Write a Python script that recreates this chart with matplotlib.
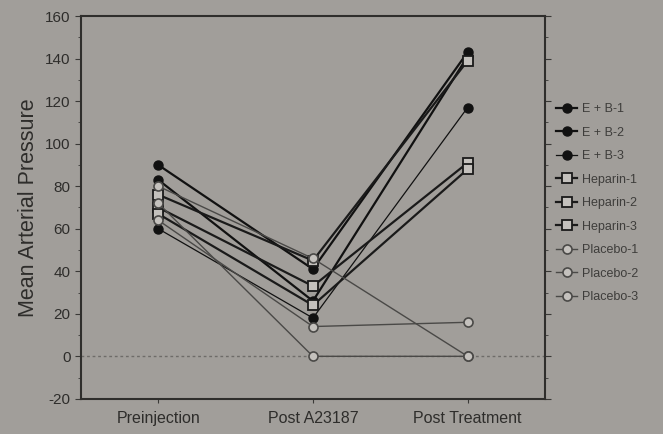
import matplotlib
matplotlib.use("Agg")
import matplotlib.pyplot as plt
from matplotlib.ticker import MultipleLocator

plt.rcParams["font.family"] = ["Liberation Sans", "DejaVu Sans"]
plt.rcParams["axes.unicode_minus"] = False

# Time points and mean arterial pressure per animal
timepoints = ["Preinjection", "Post A23187", "Post Treatment"]

eb_1 = [90, 41, 143]
eb_2 = [83, 26, 141]
eb_3 = [60, 18, 117]
heparin_1 = [76, 45, 139]
heparin_2 = [70, 33, 91]
heparin_3 = [67, 24, 88]
placebo_1 = [64, 14, 16]
placebo_2 = [72, 0, 0]
placebo_3 = [80, 46, 0]

series_names = ["E + B-1", "E + B-2", "E + B-3",
                "Heparin-1", "Heparin-2", "Heparin-3",
                "Placebo-1", "Placebo-2", "Placebo-3"]
series_values = [eb_1, eb_2, eb_3, heparin_1, heparin_2, heparin_3,
                 placebo_1, placebo_2, placebo_3]

BG = "#a19e9a"
TEXT = "#2e2d2b"

fig = plt.figure(figsize=(6.63, 4.34), dpi=100, facecolor=BG)
ax = fig.add_axes([0.122, 0.081, 0.700, 0.882], facecolor=BG)

x = list(range(1, len(timepoints) + 1))

ax.axhline(0, color="#6e6c69", lw=1.0, ls=(0, (2, 2)), zorder=1)

for name, vals in zip(series_names, series_values):
    if name.startswith("E"):
        style = dict(color="#111111", lw=1.6, marker="o", ms=6.5,
                     mfc="#111111", mec="#111111")
        if name.endswith("3"):
            style["lw"] = 0.9
    elif name.startswith("H"):
        style = dict(color="#1a1a1a", lw=1.6, marker="s", ms=6.5,
                     mfc="#c4c1bd", mec="#1a1a1a", mew=1.3)
    else:
        style = dict(color="#4a4947", lw=1.0, marker="o", ms=6.5,
                     mfc="#c4c1bd", mec="#4a4947", mew=1.2)
    ax.plot(x, vals, label=name, zorder=3, **style)

ax.set_xlim(0.5, 3.5)
ax.set_ylim(-20, 160)
ax.set_xticks(x)
ax.set_xticklabels(timepoints, fontsize=11.5, color=TEXT)
ax.yaxis.set_major_locator(MultipleLocator(20))
ax.yaxis.set_minor_locator(MultipleLocator(10))
ax.tick_params(axis="y", which="major", direction="out", length=4,
               labelsize=11, colors="#3a3937", labelcolor=TEXT, right=True)
ax.tick_params(axis="y", which="minor", direction="out", length=2.5,
               colors="#3a3937", right=True)
ax.tick_params(axis="x", direction="out", length=3, colors="#3a3937",
               labelcolor=TEXT, pad=6)
ax.set_ylabel("Mean Arterial Pressure", fontsize=15.5, color=TEXT, labelpad=4)

for s in ax.spines.values():
    s.set_color("#2f2e2c")
    s.set_linewidth(1.5)

leg = ax.legend(loc="upper left", bbox_to_anchor=(1.005, 0.795), frameon=False,
                fontsize=9, labelspacing=0.92, handlelength=1.7,
                handletextpad=0.4, borderaxespad=0.3)
for t in leg.get_texts():
    t.set_color("#3e3d3b")

fig.savefig("out.png", dpi=100, facecolor=BG)
